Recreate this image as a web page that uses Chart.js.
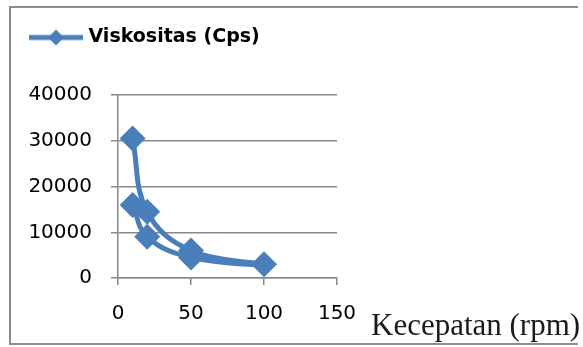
<!DOCTYPE html>
<html><head><meta charset="utf-8">
<script src="https://cdn.jsdelivr.net/npm/chart.js@4"></script>
<style>
html,body{margin:0;padding:0;background:#fff;width:583px;height:347px;overflow:hidden;}
.fl{position:absolute;background:#8c8c8c;}
#ftop{left:9px;top:6px;width:569px;height:2px;}
#fleft{left:9px;top:6px;width:2px;height:339px;}
#fbot{left:9px;top:343px;width:569px;height:2px;}
#wrap{position:absolute;left:0;top:0;width:583px;height:347px;}
#xtitle{position:absolute;left:371px;top:309px;font-family:"Liberation Serif";font-size:31px;line-height:1;color:#1a1a1a;white-space:nowrap;}
</style></head>
<body>
<div class="fl" id="ftop"></div><div class="fl" id="fleft"></div><div class="fl" id="fbot"></div>
<div id="wrap"><canvas id="c" width="583" height="347"></canvas></div>
<div id="xtitle">Kecepatan (rpm)</div>
<script>
// Data
const seriesName = 'Viskositas (Cps)';
const speeds = [10, 20, 50, 100, 50, 20, 10];
const viscosity = [30500, 14500, 6000, 3000, 4500, 9000, 16000];
const xTicks = [0, 50, 100, 150];
const yTicks = [0, 10000, 20000, 30000, 40000];

const blue = '#4A7EBB';
const axisGray = '#888888';
const tickFont = {family: 'DejaVu Sans', size: 20};

const leg = document.createElement('canvas');
leg.width = 54; leg.height = 18;
(function(){
  const c = leg.getContext('2d');
  c.strokeStyle = blue; c.lineWidth = 5;
  c.beginPath(); c.moveTo(0, 9); c.lineTo(54, 9); c.stroke();
  c.fillStyle = blue;
  c.beginPath(); c.moveTo(27, 1); c.lineTo(35, 9); c.lineTo(27, 17); c.lineTo(19, 9); c.closePath(); c.fill();
})();

const points = speeds.map((x, i) => ({x: x, y: viscosity[i]}));
const plain = v => String(v);

new Chart(document.getElementById('c'), {
  type: 'scatter',
  data: {
    datasets: [{
      label: seriesName,
      data: points,
      showLine: true,
      borderColor: blue,
      backgroundColor: blue,
      borderWidth: 5,
      tension: 0.4,
      pointStyle: 'rectRot',
      pointRadius: 13,
      pointHoverRadius: 13,
      pointBorderWidth: 0,
      pointBackgroundColor: blue,
      pointBorderColor: blue
    }]
  },
  options: {
    responsive: false,
    animation: false,
    devicePixelRatio: 1,
    layout: {padding: {left: 10, right: 246, top: 5, bottom: 0}},
    plugins: {
      tooltip: {enabled: false},
      legend: {
        display: true,
        position: 'top',
        align: 'start',
        labels: {
          usePointStyle: true,
          pointStyle: leg,
          pointStyleWidth: 46,
          padding: 23,
          color: '#000',
          font: {family: 'DejaVu Sans', size: 19, weight: 'bold'}
        }
      },
      title: {
        display: true,
        text: '',
        weight: 100,
        font: {size: 1},
        padding: {top: 0, bottom: 37}
      }
    },
    scales: {
      x: {
        type: 'linear',
        position: 'bottom',
        min: xTicks[0],
        max: xTicks[xTicks.length - 1],
        ticks: {stepSize: xTicks[1] - xTicks[0], padding: 17, color: '#000', font: tickFont, maxRotation: 0, callback: plain},
        grid: {drawOnChartArea: false, drawTicks: true, tickLength: 7, color: axisGray, lineWidth: 1.5},
        border: {display: true, color: axisGray, width: 1.5},
        afterFit(s) { s.height = 69; }
      },
      y: {
        type: 'linear',
        position: 'left',
        min: yTicks[0],
        max: yTicks[yTicks.length - 1],
        ticks: {stepSize: yTicks[1] - yTicks[0], padding: 19, color: '#000', font: tickFont, callback: plain},
        grid: {drawTicks: true, tickLength: 7, color: axisGray, lineWidth: 1.5},
        border: {display: true, color: axisGray, width: 1.5},
        afterFit(s) { s.width = 108; }
      }
    }
  }
});
</script>
</body></html>
